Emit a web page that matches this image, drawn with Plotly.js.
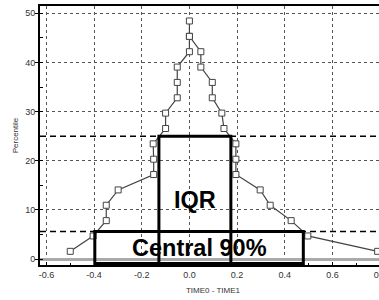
<!DOCTYPE html>
<html>
<head>
<meta charset="utf-8">
<script src="https://cdn.plot.ly/plotly-3.0.1.min.js"></script>
<style>
html,body{margin:0;padding:0;overflow:hidden;background:#fff;}
#chart{width:386px;height:300px;}
</style>
</head>
<body>
<div id="chart"></div>
<script>
// Percentile levels (left and right branches)
const leftPct  = [1.56, 4.69, 7.81, 10.94, 14.06, 17.19, 20.31, 23.44, 26.56, 29.69, 32.81, 35.94, 39.06, 42.19, 45.31, 48.44];
const leftDiff = [-0.50, -0.404, -0.349, -0.349, -0.299, -0.150, -0.150, -0.152, -0.100, -0.100, -0.051, -0.051, -0.051, 0.0, 0.0, 0.0];
const rightPct  = [45.31, 42.19, 39.06, 35.94, 32.81, 29.69, 26.56, 23.44, 20.31, 17.19, 14.06, 10.94, 7.81, 4.69, 1.56];
const rightDiff = [0.0, 0.048, 0.048, 0.096, 0.096, 0.136, 0.145, 0.195, 0.195, 0.195, 0.297, 0.339, 0.427, 0.497, 0.79];

// Interval summaries
const iqrBounds = [-0.128, 0.174];
const iqrLevel = 25;
const centralBounds = [-0.397, 0.478];
const centralLevel = 5.6;
const boxLabels = ["IQR", "Central 90%"];
const labelPos = [[0.022, 12], [0.041, 2.3]];

const xTicks = [-0.6, -0.4, -0.2, 0.0, 0.2, 0.4, 0.6, 0.8];
const xTickText = ["-0.6", "-0.4", "-0.2", "0.0", "0.2", "0.4", "0.6", "0.8"];
const yTicks = [0, 10, 20, 30, 40, 50];

const xRange = [-0.627, 0.825];
const yRange = [-1.22, 51.49];
const baseY = -0.9;
const arrowY = -1.55;

const lineStyle = {color: '#444', width: 1.2};
const markerStyle = {symbol: 'square', size: 6, color: '#fff', line: {color: '#444', width: 1}};

const traces = [
  {x: leftDiff, y: leftPct, type: 'scatter', mode: 'lines+markers', line: lineStyle, marker: markerStyle, hoverinfo: 'skip'},
  {x: rightDiff, y: rightPct, type: 'scatter', mode: 'lines+markers', line: lineStyle, marker: markerStyle, hoverinfo: 'skip'},
  {x: [centralBounds[0], iqrBounds[0], iqrBounds[1], centralBounds[1]], y: [arrowY, arrowY, arrowY, arrowY],
   type: 'scatter', mode: 'markers', cliponaxis: false,
   marker: {symbol: 'triangle-down', size: 7, color: '#000', line: {width: 0}}, hoverinfo: 'skip'}
];

const shapes = [
  {type: 'line', xref: 'paper', yref: 'y', x0: 0, x1: 1, y0: iqrLevel, y1: iqrLevel, line: {color: '#000', width: 1.5, dash: '6px,4px'}, layer: 'below'},
  {type: 'line', xref: 'paper', yref: 'y', x0: 0, x1: 1, y0: centralLevel, y1: centralLevel, line: {color: '#000', width: 1.5, dash: '6px,4px'}, layer: 'below'},
  {type: 'rect', xref: 'x', yref: 'y', x0: centralBounds[0], x1: centralBounds[1], y0: baseY, y1: centralLevel, line: {color: '#000', width: 3}, fillcolor: 'rgba(0,0,0,0)', layer: 'above'},
  {type: 'rect', xref: 'x', yref: 'y', x0: iqrBounds[0], x1: iqrBounds[1], y0: baseY, y1: iqrLevel, line: {color: '#000', width: 3}, fillcolor: 'rgba(0,0,0,0)', layer: 'above'}
];

const annotations = boxLabels.map((t, i) => ({
  x: labelPos[i][0], y: labelPos[i][1], xref: 'x', yref: 'y', text: '<b>' + t + '</b>', showarrow: false,
  font: {family: 'Liberation Sans, Arial, sans-serif', size: 23.5, color: '#000'}
}));

const axisFont = {family: 'Liberation Sans, Arial, sans-serif', size: 9, color: '#333'};

const layout = {
  width: 386, height: 300,
  margin: {l: 40, r: 0, t: 6, b: 35, pad: 0},
  paper_bgcolor: '#fff', plot_bgcolor: '#fff',
  showlegend: false,
  font: axisFont,
  xaxis: {
    range: xRange, tickmode: 'array', tickvals: xTicks, ticktext: xTickText,
    showgrid: true, gridcolor: '#555', griddash: 'dot', gridwidth: 1,
    zeroline: false,
    showline: true, linecolor: '#000', linewidth: 2, mirror: true,
    ticks: 'inside', ticklen: 3, tickcolor: '#000',
    ticklabeloverflow: 'allow',
    minor: {dtick: 0.1, tick0: 0, ticks: 'inside', ticklen: 2, tickcolor: '#000', showgrid: false},
    tickfont: axisFont,
    title: {text: 'TIME0 - TIME1', font: {family: 'Liberation Sans, Arial, sans-serif', size: 8, color: '#333'}, standoff: 9}
  },
  yaxis: {
    range: yRange, tickmode: 'array', tickvals: yTicks,
    showgrid: true, gridcolor: '#555', griddash: 'dot', gridwidth: 1,
    zeroline: true, zerolinecolor: '#aaa', zerolinewidth: 3,
    showline: true, linecolor: '#000', linewidth: 2, mirror: true,
    ticks: 'outside', ticklen: 3, tickcolor: '#000',
    ticklabelstandoff: -2,
    minor: {dtick: 5, tick0: 0, ticks: 'inside', ticklen: 3, tickcolor: '#000', showgrid: false},
    tickfont: axisFont,
    title: {text: 'Percentile', font: {family: 'Liberation Sans, Arial, sans-serif', size: 8, color: '#333'}, standoff: 5}
  },
  shapes: shapes,
  annotations: annotations
};

Plotly.newPlot('chart', traces, layout, {staticPlot: true, displayModeBar: false});
</script>
</body>
</html>
